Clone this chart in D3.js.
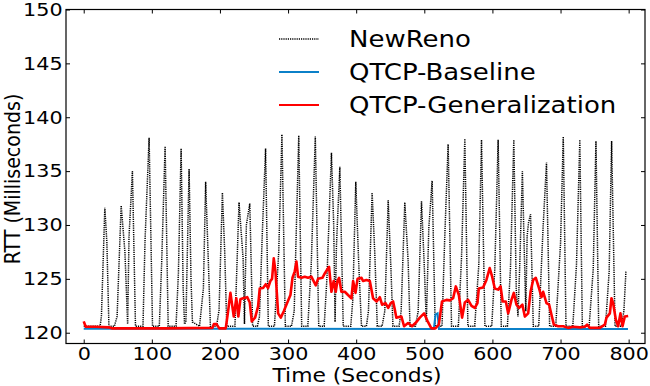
<!DOCTYPE html>
<html>
<head>
<meta charset="utf-8">
<script src="https://cdn.jsdelivr.net/npm/d3@7/dist/d3.min.js"></script>
<style>
  body { margin: 0; background: #fff; }
  text { font-family: "DejaVu Sans", sans-serif; fill: #000; }
</style>
</head>
<body>
<div id="chart"></div>
<script>
var width = 650,
  height = 386;

// series names (legend order)
var seriesNames = ["NewReno", "QTCP-Baseline", "QTCP-Generalization"];
var seriesColors = ["#000000", "#0b80c8", "#ff0000"];

// axis ticks
var xTicks = [0, 100, 200, 300, 400, 500, 600, 700, 800];
var yTicks = [120, 125, 130, 135, 140, 145, 150];

// NewReno RTT, [time s, rtt ms]
var newReno = [
  [0,120.6],[24,120.6],[26,121.5],[31,131.6],[34,128.4],[37,120.6],
  [45,120.6],[49,121.5],[55,131.8],[60.5,127.5],[64.5,120.8],[66.5,128.9],[71.5,135],[76,120.6],
  [87,120.6],[90,128.5],[96,138.1],[101,120.6],
  [111,120.6],[114.5,126.6],[119.5,137.3],[124,120.6],
  [135.5,120.6],[139,125.5],[143,137.1],[146,124.1],[148,120.8],[150,121],[154.7,135.2],[157.5,125],[159.6,121],
  [170,120.6],[175.7,124.1],[179,134],[183.5,125.6],[186,120.6],
  [195,120.6],[198.7,122.1],[203.6,133],[207,127.5],[210,120.6],
  [222,120.6],[228,132.1],[234,126.9],[236,120.8],[238.8,130],[243.8,132],[248,120.6],
  [255,120.6],[258,121.5],[262.3,129.4],[267,137.1],[271,120.6],
  [280,120.6],[286.3,127.5],[291,138.4],[296,120.6],
  [305,120.6],[309,122],[315.7,138.3],[320,120.6],
  [329,120.6],[334,126.3],[340,138.2],[345,120.6],
  [353,120.6],[357,125],[363.7,136.7],[367,130],[369,121],[371,128],[376,135.4],[381,120.6],
  [392,120.6],[395,123],[399.4,134],[403.8,126.3],[407.8,120.6],
  [415,120.6],[418,122],[423.4,133],[427.3,127.4],[431,120.6],
  [438,120.6],[442,122],[447,132.3],[451,126],[454,120.6],
  [463,120.6],[466,122],[471.4,132.1],[476.3,126.6],[479,120.6],
  [487,120.6],[491,122],[495.9,132.2],[499.7,126.6],[503,121],[506.6,129.7],[511.5,134.1],[516,120.6],
  [526,120.6],[530,128.8],[535,137.5],[540,120.6],
  [550,120.6],[554.6,126.9],[559.5,138],[564,120.6],
  [574,120.6],[580,126.3],[584,137.9],[589,120.6],
  [599,120.6],[603.5,125.9],[608.4,137.9],[613,120.6],
  [622,120.6],[626.5,126],[631.4,137.9],[635,124],[637.5,121.5],[640,126],[644,135],[647,127],[649,122],[651,129],[653,130.2],[656,131],[660,120.6],
  [668,120.6],[674.5,129.9],[679.4,135.8],[684,120.6],
  [693,120.6],[700,128.3],[704,138.2],[708,120.6],
  [718,120.6],[723.4,126.3],[728.3,137.9],[732,120.6],
  [742,120.6],[748,125.9],[752,137.8],[756,120.6],
  [766,120.6],[771.4,125.7],[775,137.8],[780,120.6],
  [789,120.6],[793,122],[796,125.7]
];

// QTCP-Baseline RTT
var qtcpBaseline = [
  [0,120.38],[514,120.35],[516.5,121.7],[519.5,121.8],[521.5,120.35],[799,120.35]
];

// QTCP-Generalization RTT
var qtcpGeneral = [
  [0,121.05],[3,120.55],[18,120.55],[37,120.5],[42,120.4],[120,120.4],[189,120.45],[191,120.8],[195,120.8],[199,120.4],
  [208.5,120.4],[212,122.0],[215.4,123.7],[218.3,122.4],[220.3,121.5],[224,123.2],[227,121.5],[230,123.1],[234,123.2],[240,123.3],
  [243.8,122.8],[246.7,121.05],[251.6,121.4],[256,122.45],[258.4,124.1],[263.3,124.15],[267.3,124.5],[270.6,124.15],[274,124.8],[276.5,125.0],
  [279,126.9],[281.5,125.7],[285.4,121.8],[289.3,121.4],[293.7,122.0],[298.6,122.75],[303.5,123.5],[306.5,125.1],[309.8,125.7],[312.3,126.6],
  [314.7,125.2],[319.6,125.1],[324.5,125.2],[329.4,125.1],[334.2,125.2],[340.7,124.4],[344,125.0],[350.4,125.1],[353.9,125.5],[358.7,126.0],
  [360.2,126.1],[363.7,123.8],[367,124.8],[370,123.8],[372.4,124.8],[374.9,125.1],[378.3,123.8],[383.3,123.8],[388,123.5],[393,123.2],
  [395.5,124.8],[399,123.7],[402,125.0],[407.8,125.1],[410,124.8],[415,124.9],[420,124.8],[424.8,123.2],[430,122.9],[434.7,123.3],
  [438,122.6],[443,122.75],[447,122.3],[450.8,122.75],[454.2,122.9],[456.7,122.15],[459,121.4],[466.4,121.5],[470.3,120.6],[476.2,120.9],
  [482,120.6],[488.5,121.0],[493.4,121.4],[499.7,121.8],[504.6,121.1],[510.4,120.4],[516.3,120.4],[521.3,120.75],[526,122.9],[532.5,123.05],
  [537.4,123.0],[542.3,123.2],[546.3,124.3],[550.7,123.5],[555.5,121.4],[559.5,122.8],[564.3,123.05],[569.3,122.5],[574.2,122.3],[578,122.75],
  [580,124.1],[586.3,124.2],[591.2,124.9],[596,126.0],[599.6,125.2],[603.5,124.1],[608.4,124.0],[612,124.3],[615,122.9],[619.7,122.9],
  [623.1,121.8],[628,123.05],[631.4,123.7],[635.3,122.6],[639.2,122.3],[644,122.6],[647.6,121.5],[652.5,121.8],[656,123.8],[659.8,124.9],
  [663.7,125.1],[668.6,124.1],[672,123.3],[674.5,123.8],[679.4,122.75],[683.3,122.6],[686.8,121.65],[690.2,120.75],[696.5,120.6],[704,120.6],
  [711.3,120.45],[718.6,120.55],[728.4,120.5],[735.7,120.55],[739,120.75],[743,120.45],[757.7,120.45],[765,120.75],[767.5,121.4],[772.4,121.8],
  [774.8,123.2],[777.2,122.75],[781.2,121.2],[784.6,120.6],[788,121.8],[791,120.6],[794.4,121.5],[799.3,121.55]
];

var plot = { left: 66, right: 645, top: 9.5, bottom: 343.5 };
var stretch = 1.15; // text in the picture is a bit wider than tall

var x = d3.scaleLinear().domain([-26, 824]).range([plot.left, plot.right]);
var y = d3.scaleLinear().domain([119, 150]).range([plot.bottom, plot.top]);

var svg = d3.select("#chart").append("svg")
  .attr("width", width)
  .attr("height", height);

// data lines
var line = d3.line()
  .x(function (d) { return x(d[0]); })
  .y(function (d) { return y(d[1]); });

svg.append("clipPath").attr("id", "clip")
  .append("rect")
  .attr("x", plot.left).attr("y", plot.top)
  .attr("width", plot.right - plot.left).attr("height", plot.bottom - plot.top);

var lines = svg.append("g").attr("clip-path", "url(#clip)");

lines.append("path")
  .datum(newReno)
  .attr("d", line)
  .attr("fill", "none")
  .attr("stroke", seriesColors[0])
  .attr("stroke-width", 1.5)
  .attr("stroke-dasharray", "1.2,1");

lines.append("path")
  .datum(qtcpBaseline)
  .attr("d", line)
  .attr("fill", "none")
  .attr("stroke", seriesColors[1])
  .attr("stroke-width", 2);

lines.append("path")
  .datum(qtcpGeneral)
  .attr("d", line)
  .attr("fill", "none")
  .attr("stroke", seriesColors[2])
  .attr("stroke-width", 2.6)
  .attr("stroke-linejoin", "round");

// axes, ticks pointing inward on all four sides
var tickLen = 4;
function styleAxis(g) {
  g.select(".domain").remove();
  g.selectAll(".tick line").attr("stroke", "#000").attr("stroke-width", 1);
}

var xAxis = svg.append("g")
  .attr("transform", "translate(0," + plot.bottom + ")")
  .call(d3.axisBottom(x).tickValues(xTicks).tickSizeInner(-tickLen).tickSizeOuter(0).tickPadding(4))
  .call(styleAxis);
xAxis.selectAll(".tick text")
  .style("font-size", "18px")
  .attr("transform", "scale(" + stretch + ",1)");

svg.append("g")
  .attr("transform", "translate(0," + plot.top + ")")
  .call(d3.axisTop(x).tickValues(xTicks).tickSizeInner(-tickLen).tickSizeOuter(0).tickFormat(""))
  .call(styleAxis);

var yAxis = svg.append("g")
  .attr("transform", "translate(" + plot.left + ",0)")
  .call(d3.axisLeft(y).tickValues(yTicks).tickSizeInner(-tickLen).tickSizeOuter(0).tickPadding(3))
  .call(styleAxis);
yAxis.selectAll(".tick text")
  .style("font-size", "18px")
  .attr("transform", "scale(" + stretch + ",1)");

svg.append("g")
  .attr("transform", "translate(" + plot.right + ",0)")
  .call(d3.axisRight(y).tickValues(yTicks).tickSizeInner(-tickLen).tickSizeOuter(0).tickFormat(""))
  .call(styleAxis);

// frame
svg.append("rect")
  .attr("x", plot.left).attr("y", plot.top)
  .attr("width", plot.right - plot.left).attr("height", plot.bottom - plot.top)
  .attr("fill", "none")
  .attr("stroke", "#000")
  .attr("stroke-width", 1.2);

// axis labels
svg.append("g")
  .attr("transform", "translate(357,382) scale(" + stretch + ",1)")
  .append("text")
  .attr("text-anchor", "middle")
  .style("font-size", "19px")
  .text("Time (Seconds)");

svg.append("g")
  .attr("transform", "translate(20,179) scale(" + stretch + ",1) rotate(-90)")
  .append("text")
  .attr("text-anchor", "middle")
  .style("font-size", "19px")
  .text("RTT (Milliseconds)");

// legend, no frame
var legend = svg.append("g");
seriesNames.forEach(function (name, i) {
  var ly = 39 + 33 * i;
  var l = legend.append("line")
    .attr("x1", 279).attr("x2", 319)
    .attr("y1", ly).attr("y2", ly)
    .attr("stroke", seriesColors[i])
    .attr("stroke-width", i == 0 ? 1.5 : 2);
  if (i == 0) l.attr("stroke-dasharray", "1.2,1");
  legend.append("g")
    .attr("transform", "translate(349," + (ly + 8) + ") scale(" + stretch + ",1)")
    .append("text")
    .style("font-size", "22.6px")
    .text(name);
});
</script>
</body>
</html>
